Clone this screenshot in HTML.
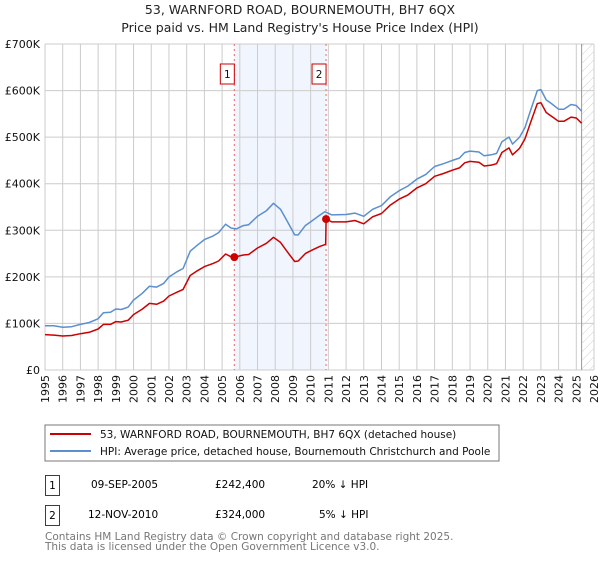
<!DOCTYPE html>
<html><head><meta charset="utf-8"><style>
body{margin:0;background:#fff;font-family:"Liberation Sans","DejaVu Sans",sans-serif;}
svg text{font-family:"DejaVu Sans","Liberation Sans",sans-serif;}
</style></head><body>
<svg id="c" width="600" height="560" xmlns="http://www.w3.org/2000/svg">
<defs><pattern id="hatch" width="6" height="6" patternUnits="userSpaceOnUse" patternTransform="rotate(45)"><line x1="0" y1="0" x2="0" y2="6" stroke="#ccc" stroke-width="1"/></pattern></defs>
<text x="300" y="14" text-anchor="middle" font-size="12.5" fill="#222">53, WARNFORD ROAD, BOURNEMOUTH, BH7 6QX</text>
<text x="300" y="32" text-anchor="middle" font-size="12.5" fill="#222">Price paid vs. HM Land Registry's House Price Index (HPI)</text>
<g id="plot"></g>
<rect x="45" y="425" width="454" height="36" fill="#fff" stroke="#777"/>
<line x1="50" y1="434" x2="91" y2="434" stroke="#cc0000" stroke-width="2"/>
<text x="100" y="438" font-size="10.5" fill="#111">53, WARNFORD ROAD, BOURNEMOUTH, BH7 6QX (detached house)</text>
<line x1="50" y1="451" x2="91" y2="451" stroke="#5b8fd0" stroke-width="2"/>
<text x="100" y="455" font-size="10.5" fill="#111">HPI: Average price, detached house, Bournemouth Christchurch and Poole</text>
<g>
<rect x="45.5" y="475.5" width="14" height="20" fill="#fff" stroke="#cc0000"/>
<text x="52.5" y="489" text-anchor="middle" font-size="10.5">1</text>
<text x="91" y="488" font-size="10.5">09-SEP-2005</text>
<text x="215" y="488" font-size="10.5">£242,400</text>
<text x="312" y="488" font-size="10.5">20% ↓ HPI</text></g>
<g>
<rect x="45.5" y="505.5" width="14" height="20" fill="#fff" stroke="#cc0000"/>
<text x="52.5" y="519" text-anchor="middle" font-size="10.5">2</text>
<text x="88" y="518" font-size="10.5">12-NOV-2010</text>
<text x="215" y="518" font-size="10.5">£324,000</text>
<text x="319" y="518" font-size="10.5">5% ↓ HPI</text></g>
<text x="45" y="540" font-size="10.5" fill="#777">Contains HM Land Registry data © Crown copyright and database right 2025.</text>
<text x="45" y="550" font-size="10.5" fill="#777">This data is licensed under the Open Government Licence v3.0.</text>
</svg>
<script>
const hpiDates=[1995,1995.5,1996,1996.5,1997,1997.5,1998,1998.3,1998.7,1999,1999.3,1999.7,2000,2000.5,2000.9,2001.3,2001.7,2002,2002.5,2002.8,2003.2,2003.6,2004,2004.5,2004.8,2005.2,2005.5,2005.8,2006.2,2006.5,2007,2007.5,2007.9,2008.3,2008.7,2009.1,2009.3,2009.7,2010,2010.5,2010.8,2011.2,2012,2012.5,2013,2013.5,2014,2014.5,2015,2015.5,2016,2016.5,2017,2017.5,2018,2018.4,2018.7,2019,2019.5,2019.8,2020.2,2020.5,2020.8,2021.2,2021.4,2021.8,2022.1,2022.4,2022.8,2023,2023.3,2023.6,2024,2024.3,2024.7,2025,2025.3];
const hpiValues=[95,95,92,93,98,102,110,123,124,131,130,135,150,165,180,178,186,200,212,218,255,268,280,288,295,313,305,303,310,312,330,342,358,345,318,290,290,310,318,332,340,333,334,337,330,345,353,372,385,395,410,420,437,443,450,455,467,470,468,460,462,465,490,500,485,500,520,555,600,602,580,572,560,560,570,568,556];
const priceDates=[1995,1995.5,1996,1996.5,1997,1997.5,1998,1998.3,1998.7,1999,1999.3,1999.7,2000,2000.5,2000.9,2001.3,2001.7,2002,2002.5,2002.8,2003.2,2003.6,2004,2004.5,2004.8,2005.2,2005.5,2005.69,2006.2,2006.5,2007,2007.5,2007.9,2008.3,2008.7,2009.1,2009.3,2009.7,2010,2010.5,2010.85,2010.87,2011.2,2012,2012.5,2013,2013.5,2014,2014.5,2015,2015.5,2016,2016.5,2017,2017.5,2018,2018.4,2018.7,2019,2019.5,2019.8,2020.2,2020.5,2020.8,2021.2,2021.4,2021.8,2022.1,2022.4,2022.8,2023,2023.3,2023.6,2024,2024.3,2024.7,2025,2025.3];
const priceValues=[76,75,73,74,78,81,88,98,98,104,103,107,119,131,143,141,148,159,168,173,203,213,222,229,234,249,243,242.4,247,248,262,272,285,274,253,233,234,250,256,265,270,324,318,318,321,314,329,336,354,367,376,391,400,416,422,429,434,445,448,446,438,440,443,467,477,462,476,496,529,572,574,553,545,534,534,543,541,530];
const saleDates=[2005.69,2010.87];
const saleValues=[242.4,324];
const saleLabels=["1","2"];
const yTicks=[0,100,200,300,400,500,600,700];
const yTickLabels=["£0","£100K","£200K","£300K","£400K","£500K","£600K","£700K"];
const xYears=[1995,1996,1997,1998,1999,2000,2001,2002,2003,2004,2005,2006,2007,2008,2009,2010,2011,2012,2013,2014,2015,2016,2017,2018,2019,2020,2021,2022,2023,2024,2025,2026];

const X0=45,X1=594,Y0=370,Y1=44;
const xs=t=>X0+(t-1995)/(2026-1995)*(X1-X0);
const ys=v=>Y0-v/700*(Y0-Y1);
const NS="http://www.w3.org/2000/svg";
const g=document.getElementById('plot');
function mk(tag,attrs){const e=document.createElementNS(NS,tag);for(const k in attrs)e.setAttribute(k,attrs[k]);g.appendChild(e);return e;}

let e=mk('rect',{x:xs(saleDates[0]),y:Y1,width:xs(saleDates[1])-xs(saleDates[0]),height:Y0-Y1,fill:'#eef3fc',opacity:0.8});


e=mk('rect',{x:xs(2025.3),y:Y1,width:X1-xs(2025.3),height:Y0-Y1,fill:'url(#hatch)'});


xYears.forEach(yr=>{
 const x=xs(yr);
 let l=mk('line',{x1:x,y1:Y1,x2:x,y2:Y0,stroke:'#ccc','stroke-width':1});
 
 
 let t=mk('text',{x:0,y:0,'font-size':11,fill:'#111','text-anchor':'end',transform:`translate(${x+4},${Y0+5}) rotate(-90)`});
 t.textContent=yr;
 
 
});
yTicks.forEach((v,i)=>{
 const y=ys(v);
 let l=mk('line',{x1:X0,y1:y,x2:X1,y2:y,stroke:'#ccc','stroke-width':1});
 
 
 let t=mk('text',{x:X0-5,y:y+4,'font-size':11,fill:'#111','text-anchor':'end'});
 t.textContent=yTickLabels[i];
 
 
});
e=mk('line',{x1:xs(2025.3),y1:Y1,x2:xs(2025.3),y2:Y0,stroke:'#999','stroke-width':1});


saleDates.forEach((d,i)=>{
 const x=xs(d);
 let l=mk('line',{x1:x,y1:Y1,x2:x,y2:Y0,stroke:'#e66','stroke-width':1,'stroke-dasharray':'2,3'});
 
 
 let r=mk('rect',{x:x-14,y:64,width:14,height:20,fill:'#fff',stroke:'#cc0000'});
 
 
 let t=mk('text',{x:x-7,y:78,'font-size':10.5,'text-anchor':'middle',fill:'#111'});
 t.textContent=saleLabels[i];
 
 
});
const path=(D,V)=>D.map((d,i)=>(i?'L':'M')+xs(d).toFixed(1)+','+ys(V[i]).toFixed(1)).join('');
e=mk('path',{d:path(hpiDates,hpiValues),fill:'none',stroke:'#5b8fd0','stroke-width':1.5,'stroke-linejoin':'round'});


e=mk('path',{d:path(priceDates,priceValues),fill:'none',stroke:'#cc0000','stroke-width':1.5,'stroke-linejoin':'round'});


saleDates.forEach((d,i)=>{
 let c=mk('circle',{cx:xs(d),cy:ys(saleValues[i]),r:4,fill:'#cc0000'});
 
 
});
</script>
</body></html>
